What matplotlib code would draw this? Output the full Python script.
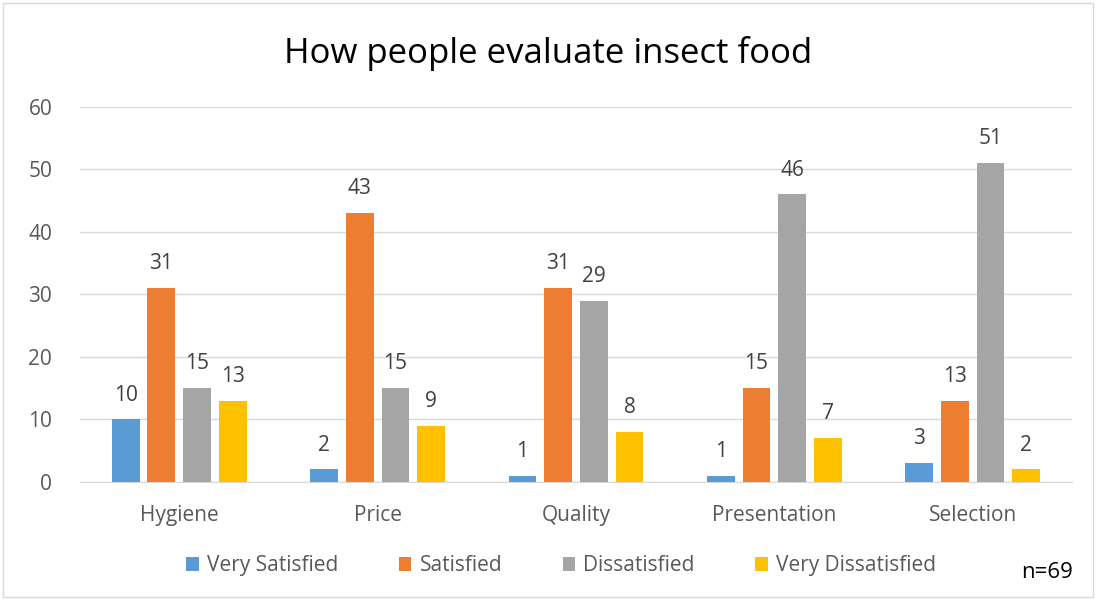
import numpy as np
import matplotlib.pyplot as plt

categories = ['Hygiene', 'Price', 'Quality', 'Presentation', 'Selection']
series = ['Very Satisfied', 'Satisfied', 'Dissatisfied', 'Very Dissatisfied']
very_satisfied = [10, 2, 1, 1, 3]
satisfied = [31, 43, 31, 15, 13]
dissatisfied = [15, 15, 29, 46, 51]
very_dissatisfied = [13, 9, 8, 7, 2]
values = [very_satisfied, satisfied, dissatisfied, very_dissatisfied]
colors = ['#5B9BD5', '#ED7D31', '#A5A5A5', '#FFC000']

plt.rcParams['font.family'] = ['Open Sans', 'DejaVu Sans']

fig = plt.figure(figsize=(10.96, 6.0), dpi=100)
ax = fig.add_axes([0.073, 0.197, 0.905, 0.625])

x = np.arange(len(categories))
w = 0.14
step = 0.18
for i, (name, vals, c) in enumerate(zip(series, values, colors)):
    pos = x + (i - 1.5) * step
    bars = ax.bar(pos, vals, width=w, color=c, label=name, zorder=3)
    for b, v in zip(bars, vals):
        ax.text(b.get_x() + b.get_width() / 2, v + 2.2, str(v), ha='center', va='bottom',
                fontsize=15, color='#404040')

ax.set_xlim(-0.5, len(categories) - 0.5)
ax.set_ylim(0, 60)
ax.set_yticks(range(0, 61, 10))
ax.set_xticks(x)
ax.set_xticklabels(categories)
ax.tick_params(axis='both', length=0, labelsize=15, labelcolor='#595959')
ax.tick_params(axis='y', pad=20)
ax.tick_params(axis='x', pad=17)
ax.grid(axis='y', color='#D9D9D9', linewidth=1, zorder=0)
for s in ['top', 'right', 'left']:
    ax.spines[s].set_visible(False)
ax.spines['bottom'].set_color('#D9D9D9')

fig.suptitle('How people evaluate insect food', y=0.94, fontsize=25, color='#000000')

fig.legend(loc='center', bbox_to_anchor=(0.012, 0.0, 1.0, 0.114), ncol=4, frameon=False,
           borderaxespad=0, fontsize=15, handlelength=0.6, handleheight=0.6,
           columnspacing=2.9, handletextpad=0.4, labelcolor='#595959')
fig.text(0.955, 0.045, 'n=69', ha='center', va='center', fontsize=16, color='#000000')

border = plt.Rectangle((0.003, 0.005), 0.994, 0.99, transform=fig.transFigure,
                       fill=False, edgecolor='#D9D9D9', linewidth=1)
fig.patches.append(border)

fig.savefig('out.png', dpi=100)
